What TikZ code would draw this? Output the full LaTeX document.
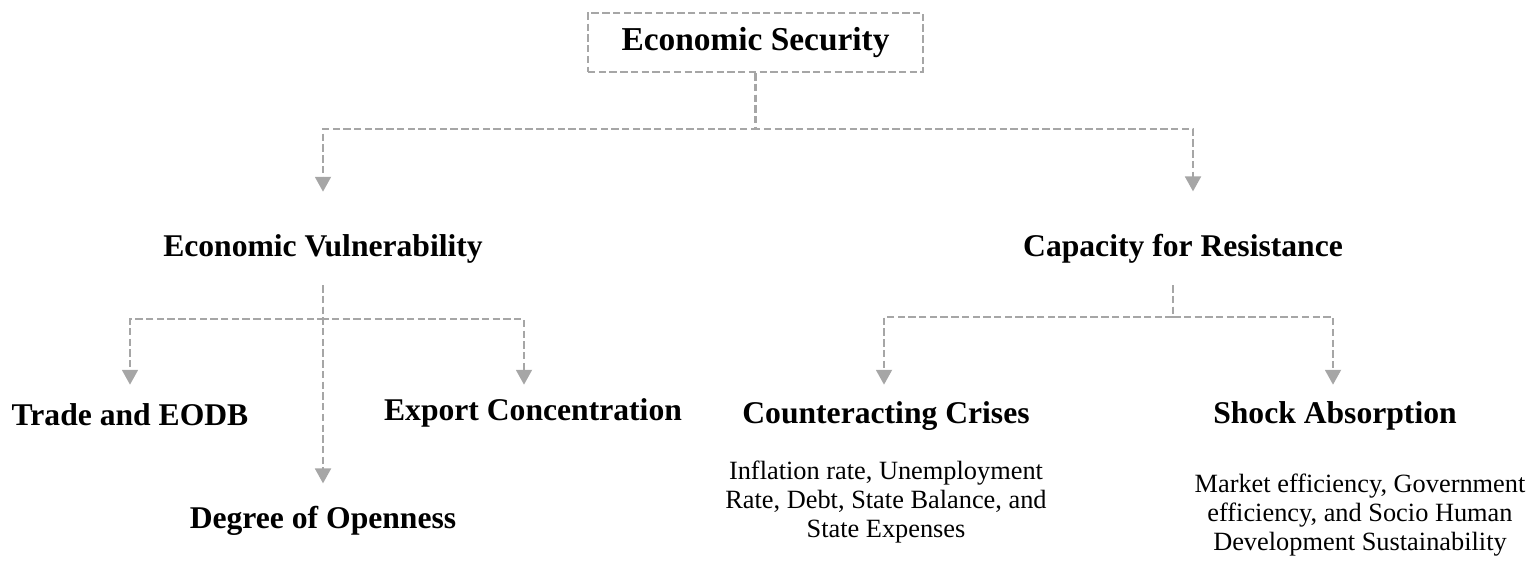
\documentclass[tikz,border=0pt]{standalone}
\usepackage{fontspec}
\setmainfont{Liberation Serif}
\usetikzlibrary{arrows.meta}
\usetikzlibrary{positioning}
\definecolor{linkgray}{RGB}{166,166,166}
\tikzset{head/.style={font=\fontsize{18}{20}\selectfont\bfseries,inner sep=0pt,anchor=base}}

\begin{document}
\begin{tikzpicture}[x=0.02cm,y=-0.02cm]
\tikzset{link/.style={draw=linkgray,line width=1.4pt,dash pattern=on 4.2pt off 1.9pt,-{Triangle[length=8.5pt,width=9pt]}}}
\tikzset{desc/.style={font=\fontsize{15}{16.5}\selectfont,align=center,inner sep=0pt}}
\useasboundingbox (0,0) rectangle (1540,565);
  % top box
  \node[draw=linkgray,line width=1.4pt,dash pattern=on 4.2pt off 1.9pt,minimum width=6.7cm,minimum height=1.18cm,
        font=\fontsize{19}{21}\selectfont\bfseries] (sec) at (755.5,42.5) {Economic Security};
  \node[head] (vul) at (323,256) {Economic Vulnerability};
  \node[head] (res) at (1183,256) {Capacity for Resistance};
  % left branch
  \node[head] (trade) at (130,425) {Trade and EODB};
  \node[head] (open) at (323,528) {Degree of Openness};
  \node[head] (export) at (533,420) {Export Concentration};
  % right branch
  \node[head] (crises) at (886,423) {Counteracting Crises};
  \node[head] (shock) at (1335,423) {Shock Absorption};
  \node[desc,below=0.6cm of crises] (crisesind) {Inflation rate, Unemployment\\Rate, Debt, State Balance, and\\State Expenses};
  \node[desc,below=0.88cm of shock,xshift=0.5cm] (shockind) {Market efficiency, Government\\efficiency, and Socio Human\\Development Sustainability};
  % connectors
  \draw[link] (sec.south) -- ++(0,56) -| ([yshift=0.84cm]vul.north);
  \draw[link] (sec.south) -- ++(0,56) -| ([xshift=0.2cm,yshift=0.84cm]res.north);
  \draw[link] ([yshift=-0.44cm]vul.south) -- ([yshift=0.44cm]open.north);
  \draw[link] ([yshift=-0.44cm]vul.south) -- ++(0,34) -| ([yshift=0.36cm]trade.north);
  \draw[link] ([yshift=-0.44cm]vul.south) -- ++(0,34) -| ([xshift=-0.18cm,yshift=0.26cm]export.north);
  \draw[link] ([xshift=-0.2cm,yshift=-0.44cm]res.south) -- ++(0,32) -| ([xshift=-0.04cm,yshift=0.32cm]crises.north);
  \draw[link] ([xshift=-0.2cm,yshift=-0.44cm]res.south) -- ++(0,32) -| ([xshift=-0.04cm,yshift=0.32cm]shock.north);
\end{tikzpicture}
\end{document}
